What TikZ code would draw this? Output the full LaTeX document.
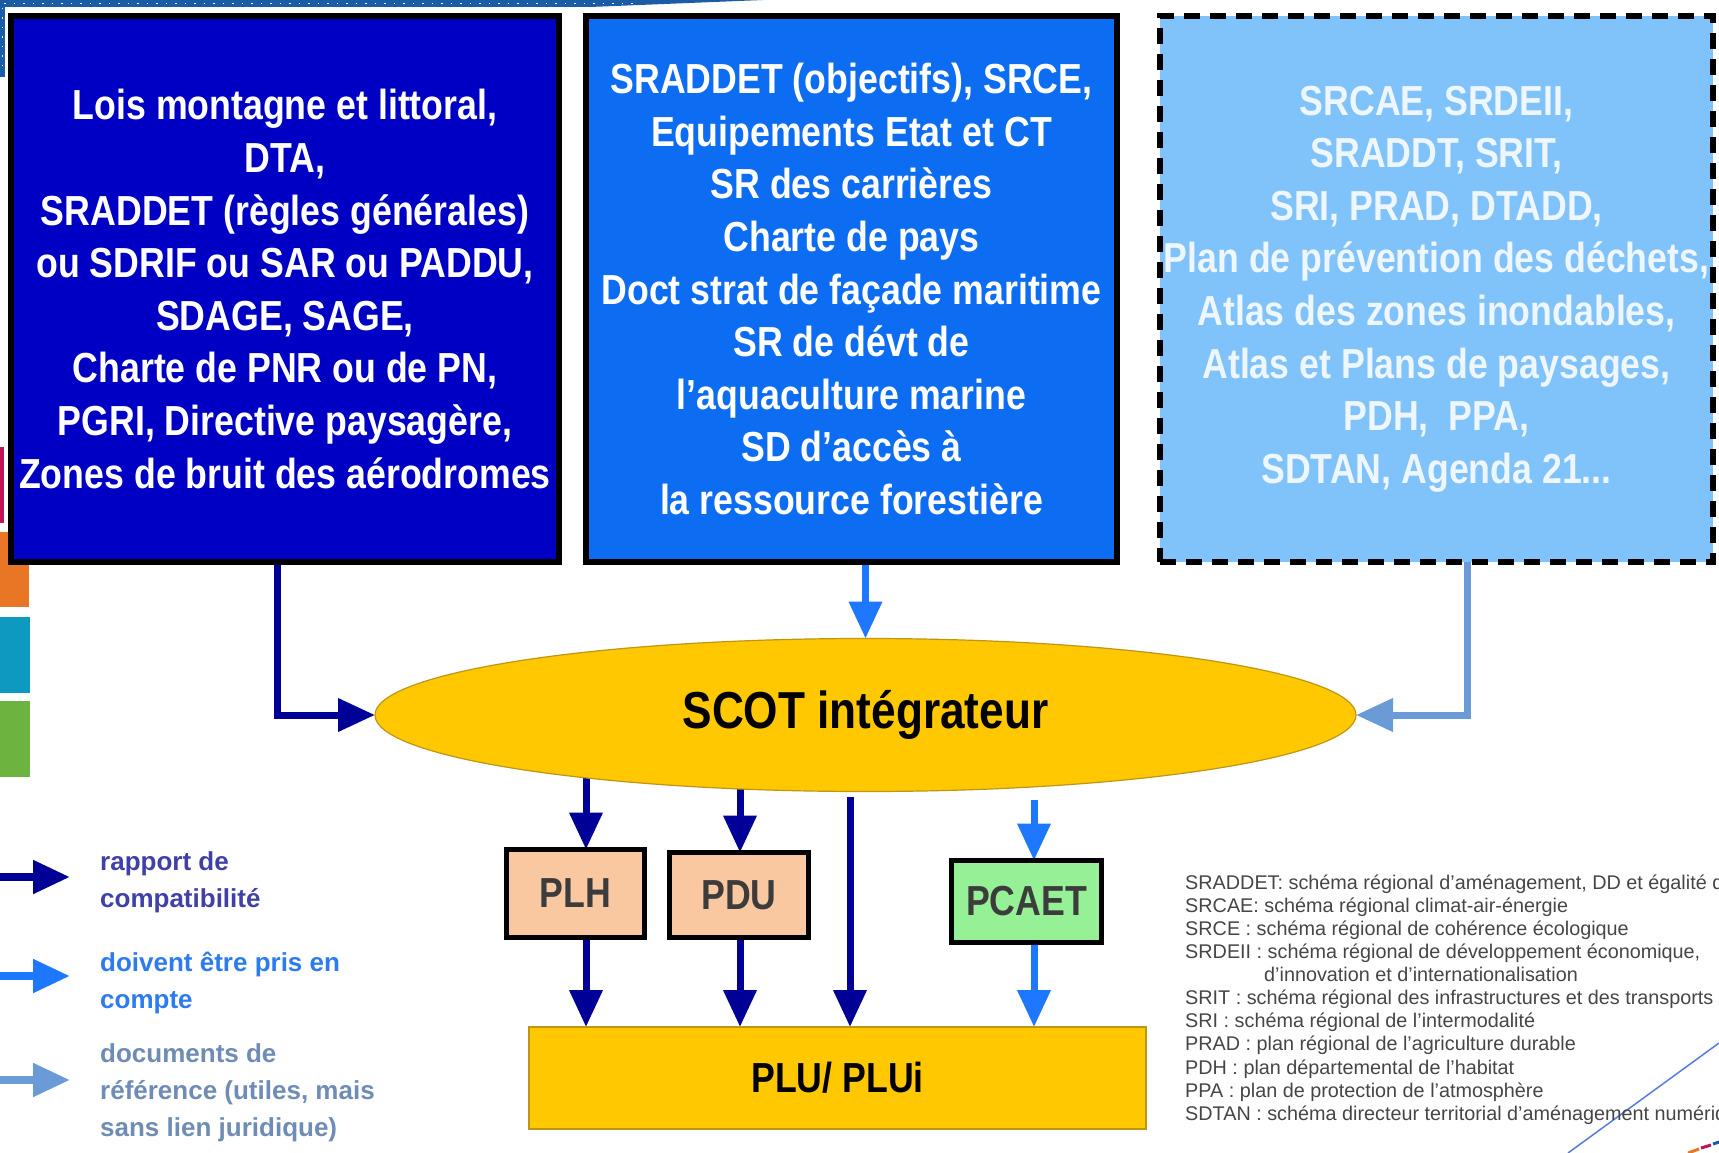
\documentclass[tikz,border=0pt]{standalone}
\usepackage{fontspec}
\setmainfont{Liberation Sans}
\newfontfamily\narrowsans[FakeStretch=0.85]{Liberation Sans}
\usetikzlibrary{arrows.meta,shapes.geometric}

\definecolor{deepblue}{RGB}{0,0,196}
\definecolor{brightblue}{RGB}{12,108,242}
\definecolor{skyblue}{RGB}{128,194,250}
\definecolor{skytext}{RGB}{238,246,255}
\definecolor{gold}{RGB}{255,200,0}
\definecolor{goldline}{RGB}{190,150,20}
\definecolor{navyarrow}{RGB}{0,0,150}
\definecolor{bluearrow}{RGB}{30,120,255}
\definecolor{steelarrow}{RGB}{106,155,215}
\definecolor{peach}{RGB}{250,200,160}
\definecolor{mint}{RGB}{150,240,150}
\definecolor{boxtext}{RGB}{60,60,60}
\definecolor{notegray}{RGB}{70,70,70}
\definecolor{legnavy}{RGB}{64,64,168}
\definecolor{legblue}{RGB}{45,123,240}
\definecolor{legsteel}{RGB}{110,140,180}
\definecolor{slideblue}{RGB}{26,92,166}
\definecolor{stripmagenta}{RGB}{190,20,90}
\definecolor{striporange}{RGB}{232,118,36}
\definecolor{stripteal}{RGB}{14,154,192}
\definecolor{stripgreen}{RGB}{109,179,63}

\pgfdeclarelayer{back}
\pgfsetlayers{back,main}

\tikzset{
  bigtext/.style={font=\narrowsans\bfseries\fontsize{42}{52.6}\selectfont,
    align=center, inner sep=0pt, outer sep=0pt},
  topbox/.style={bigtext, rectangle, draw=black, line width=6pt},
  smallbox/.style={bigtext, rectangle, draw=black, line width=5pt, text=boxtext},
  goldshape/.style={bigtext, fill=gold, draw=goldline, line width=1.2pt},
  flow/.style={line width=7pt, -{Triangle[length=37pt,width=32pt]}},
  compat/.style={flow, draw=navyarrow},
  account/.style={flow, draw=bluearrow},
  reference/.style={flow, draw=steelarrow},
  legtext/.style={font=\bfseries\fontsize{26}{37}\selectfont, align=left,
    anchor=west, inner sep=0pt},
  notes/.style={font=\fontsize{19.8}{23.1}\selectfont, align=left, anchor=west,
    inner sep=0pt, text=notegray}
}

\begin{document}
\begin{tikzpicture}[x=1pt,y=-1pt]
\useasboundingbox (0,0) rectangle (1719,1153);
\clip (0,0) rectangle (1719,1153);

% slide frame decoration
\fill[slideblue] (0,0) -- (763,0) -- (590,7) -- (0,7) -- cycle;
\fill[slideblue] (0,0) rectangle (5,77);
\draw[white, line width=1.2pt, dash pattern=on 1.5pt off 8pt] (4,3.5) -- (640,3.5);
\draw[white, line width=1pt, dash pattern=on 1.5pt off 8pt] (2.5,8) -- (2.5,74);
\fill[stripmagenta] (0,447) rectangle (4,523);
\fill[striporange] (0,532) rectangle (29,607);
\fill[stripteal] (0,617) rectangle (30,693);
\fill[stripgreen] (0,701) rectangle (30,777);
\draw[steelarrow!80!blue, line width=1.5pt] (1568,1153) -- (1719,1043);
\draw[striporange, line width=3pt] (1688,1153) -- (1699,1149);
\draw[stripmagenta, line width=3pt] (1701,1148) -- (1711,1145);
\draw[slideblue, line width=3pt] (1713,1144) -- (1719,1142);

% upper boxes
\node[topbox, fill=deepblue, text=white, minimum width=548pt, minimum height=546pt]
  (b1) at (285,289)
  {Lois montagne et littoral,\\DTA,\\SRADDET (règles générales)\\ou SDRIF ou SAR ou PADDU,\\SDAGE, SAGE,\\Charte de PNR ou de PN,\\PGRI, Directive paysagère,\\Zones de bruit des aérodromes};
\node[topbox, fill=brightblue, text=white, minimum width=531pt, minimum height=546pt]
  (b2) at (851.5,289)
  {SRADDET (objectifs), SRCE,\\Equipements Etat et CT\\SR des carrières\\Charte de pays\\Doct strat de façade maritime\\SR de dévt de\\l’aquaculture marine\\SD d’accès à\\la ressource forestière};
\node[topbox, fill=skyblue, text=skytext, dash pattern=on 16pt off 10pt,
  minimum width=553pt, minimum height=546pt]
  (b3) at (1436.5,289)
  {SRCAE, SRDEII,\\SRADDT, SRIT,\\SRI, PRAD, DTADD,\\Plan de prévention des déchets,\\Atlas des zones inondables,\\Atlas et Plans de paysages,\\PDH,\ \ PPA,\\SDTAN, Agenda 21...};

% central documents
\node[goldshape, ellipse, minimum width=981pt, minimum height=153pt,
  font=\narrowsans\bfseries\fontsize{52}{60}\selectfont]
  (scot) at (865.5,715) {SCOT intégrateur};
\node[smallbox, fill=peach, minimum width=138pt, minimum height=88pt]
  (plh) at (575.5,893.5) {PLH};
\node[smallbox, fill=peach, minimum width=139pt, minimum height=85pt]
  (pdu) at (739,895) {PDU};
\node[smallbox, fill=mint, minimum width=150pt, minimum height=82pt]
  (pcaet) at (1026.5,901.5) {PCAET};
\node[goldshape, rectangle, minimum width=617pt, minimum height=102pt]
  (plu) at (837.5,1078) {PLU/ PLUi};

% connectors
\coordinate (b1foot) at ([xshift=-8pt]b1.south);
\coordinate (b3foot) at ([xshift=30.5pt]b3.south);
\coordinate (plhtop) at ([xshift=10.5pt]plh.north);
\coordinate (plhfoot) at ([xshift=10.5pt]plh.south);
\coordinate (pdutop) at ([xshift=1pt]pdu.north);
\coordinate (pdufoot) at ([xshift=1pt]pdu.south);
\coordinate (pcaettop) at ([xshift=7.5pt]pcaet.north);
\coordinate (pcaetfoot) at ([xshift=7.5pt]pcaet.south);
\path (scot.south) ++(-15.5,5) coordinate (direct);
\path (pcaettop |- scot.south) ++(0,8) coordinate (pcaetstart);

\begin{pgfonlayer}{back}
\fill[white] (0,0) rectangle (1719,1153);
\draw[compat] (b1foot) |- (scot.west);
\draw[account] (b2.south -| scot.north) -- (scot.north);
\draw[reference] (b3foot) |- (scot.east);
\draw[compat] (plhtop |- scot.center) -- (plhtop);
\draw[compat] (pdutop |- scot.center) -- (pdutop);
\draw[compat] (direct) -- (direct |- plu.north);
\draw[account] (pcaetstart) -- (pcaettop);
\draw[compat] (plhfoot) -- (plhfoot |- plu.north);
\draw[compat] (pdufoot) -- (pdufoot |- plu.north);
\draw[account] (pcaetfoot) -- (pcaetfoot |- plu.north);
\end{pgfonlayer}

% legend
\coordinate (k1a) at (0,877);   \coordinate (k1b) at (70,877);
\coordinate (k2a) at (0,976);   \coordinate (k2b) at (70,976);
\coordinate (k3a) at (0,1080);  \coordinate (k3b) at (70,1080);
\draw[compat, line width=8pt] (k1a) -- (k1b);
\draw[account, line width=8pt] (k2a) -- (k2b);
\draw[reference, line width=8pt] (k3a) -- (k3b);
\node[legtext, text=legnavy] (k1t) at (100,882) {rapport de\\compatibilité};
\node[legtext, text=legblue] (k2t) at (100,983) {doivent être pris en\\compte};
\node[legtext, text=legsteel] (k3t) at (100,1093) {documents de\\référence (utiles, mais\\sans lien juridique)};

% abbreviations
\node[notes] (abbr) at (1185,999.5)
  {SRADDET: schéma régional d’aménagement, DD et égalité des territoires\\
   SRCAE: schéma régional climat-air-énergie\\
   SRCE : schéma régional de cohérence écologique\\
   SRDEII : schéma régional de développement économique,\\
   \hspace*{79pt}d’innovation et d’internationalisation\\
   SRIT : schéma régional des infrastructures et des transports\\
   SRI : schéma régional de l’intermodalité\\
   PRAD : plan régional de l’agriculture durable\\
   PDH : plan départemental de l’habitat\\
   PPA : plan de protection de l’atmosphère\\
   SDTAN : schéma directeur territorial d’aménagement numérique};
\end{tikzpicture}
\end{document}
